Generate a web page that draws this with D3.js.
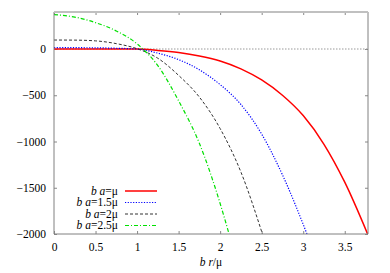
<!DOCTYPE html>
<html>
<head>
<meta charset="utf-8">
<script src="https://cdn.jsdelivr.net/npm/d3@7"></script>
<style>
  body { margin: 0; background: #fff; }
  .tick line { stroke: #888; }
</style>
</head>
<body>
<div id="chart"></div>
<script>
// chart size
var svgWidth = 390;
var svgHeight = 273;
var serif = "Liberation Serif";

// plot area edges
var plot = { left: 54, right: 368, top: 12, bottom: 234 };

// data: r (in units of mu) and value
var rRed   = [0, 0.5, 1, 1.25, 1.5, 1.75, 2, 2.25, 2.5, 2.75, 3, 3.25, 3.5, 3.78];
var vRed   = [1, 1, 0, -15, -38, -75, -130, -215, -335, -500, -720, -1030, -1440, -2010];

var rBlue  = [0, 0.25, 0.5, 0.75, 1, 1.25, 1.5, 1.75, 2, 2.25, 2.5, 2.75, 3.05];
var vBlue  = [14, 14, 13, 8, 0, -45, -115, -225, -385, -600, -920, -1360, -2010];

var rBlack = [0, 0.25, 0.5, 0.75, 1, 1.25, 1.5, 1.75, 2, 2.25, 2.52];
var vBlack = [97, 96, 88, 58, 3, -100, -285, -520, -860, -1330, -2030];

var rGreen = [0, 0.25, 0.5, 0.75, 1, 1.25, 1.5, 1.75, 2, 2.12];
var vGreen = [372, 345, 285, 195, 55, -180, -560, -1020, -1670, -2040];

var legendLabels = ["\u03bc", "1.5\u03bc", "2\u03bc", "2.5\u03bc"];
var xTicks = [0, 0.5, 1, 1.5, 2, 2.5, 3, 3.5];
var yTicks = [-2000, -1500, -1000, -500, 0];

var series = [
  { r: rRed,   v: vRed,   color: "#ff0000", width: 1.5, dash: null },
  { r: rBlue,  v: vBlue,  color: "#0000ff", width: 1.2, dash: "1.2,1.5" },
  { r: rBlack, v: vBlack, color: "#333333", width: 1,   dash: "3,2" },
  { r: rGreen, v: vGreen, color: "#00e000", width: 1.2, dash: "4,2,1,2" }
];

var svg = d3.select("#chart")
  .append("svg")
  .attr("width", svgWidth)
  .attr("height", svgHeight);

var x = d3.scaleLinear().domain([0, 3.78]).range([plot.left, plot.right]);
var y = d3.scaleLinear().domain([-2000, 400]).range([plot.bottom, plot.top]);

svg.append("clipPath")
  .attr("id", "clip")
  .append("rect")
  .attr("x", plot.left)
  .attr("y", plot.top)
  .attr("width", plot.right - plot.left)
  .attr("height", plot.bottom - plot.top);

// axes with inward ticks, mirrored on top and right
svg.append("g")
  .attr("transform", `translate(0, ${plot.bottom})`)
  .call(d3.axisBottom(x).tickValues(xTicks).tickSize(-3).tickPadding(9).tickFormat(d3.format("")));
svg.append("g")
  .attr("transform", `translate(0, ${plot.top})`)
  .call(d3.axisTop(x).tickValues(xTicks).tickSize(-3).tickFormat(""));
svg.append("g")
  .attr("transform", `translate(${plot.left}, 0)`)
  .call(d3.axisLeft(y).tickValues(yTicks).tickSize(-3).tickPadding(8).tickFormat(d3.format("")));
svg.append("g")
  .attr("transform", `translate(${plot.right}, 0)`)
  .call(d3.axisRight(y).tickValues(yTicks).tickSize(-3).tickFormat(""));

svg.selectAll(".domain").remove();
svg.selectAll(".tick text")
  .style("font-family", serif)
  .style("font-size", "11.5px")
  .attr("fill", "#000");

// zero line
svg.append("line")
  .attr("x1", plot.left).attr("x2", plot.right)
  .attr("y1", y(0)).attr("y2", y(0))
  .attr("stroke", "#999")
  .attr("stroke-dasharray", "1.5,1.5");

// curves
var line = d3.line()
  .x(d => x(d[0]))
  .y(d => y(d[1]))
  .curve(d3.curveMonotoneX);

var curves = svg.append("g").attr("clip-path", "url(#clip)");
series.forEach(s => {
  curves.append("path")
    .datum(s.r.map((r, i) => [r, s.v[i]]))
    .attr("d", line)
    .attr("fill", "none")
    .attr("stroke", s.color)
    .attr("stroke-width", s.width)
    .attr("stroke-dasharray", s.dash);
});

// border
svg.append("path")
  .attr("d", `M${plot.left},${plot.top}V${plot.bottom}H${plot.right}V${plot.top}`)
  .attr("fill", "none")
  .attr("stroke", "#808080")
  .attr("stroke-width", 1);
svg.append("line")
  .attr("x1", plot.left).attr("x2", plot.right)
  .attr("y1", plot.top).attr("y2", plot.top)
  .attr("stroke", "#c0c0c0")
  .attr("stroke-width", 2);

// legend
var legend = svg.append("g");
legendLabels.forEach((lab, i) => {
  var ly = 191 + i * 11.5;
  var t = legend.append("text")
    .attr("x", 118)
    .attr("y", ly)
    .attr("dy", "0.32em")
    .attr("text-anchor", "end")
    .style("font-family", serif)
    .style("font-size", "11.5px");
  t.append("tspan").style("font-style", "italic").text("b a");
  t.append("tspan").text("=" + lab);
  legend.append("line")
    .attr("x1", 125).attr("x2", 157)
    .attr("y1", ly).attr("y2", ly)
    .attr("stroke", series[i].color)
    .attr("stroke-width", series[i].width)
    .attr("stroke-dasharray", series[i].dash);
});

// x axis title
var xt = svg.append("text")
  .attr("x", (plot.left + plot.right) / 2)
  .attr("y", 266)
  .attr("text-anchor", "middle")
  .style("font-family", serif)
  .style("font-size", "11.5px");
xt.append("tspan").style("font-style", "italic").text("b r");
xt.append("tspan").text("/\u03bc");
</script>
</body>
</html>
